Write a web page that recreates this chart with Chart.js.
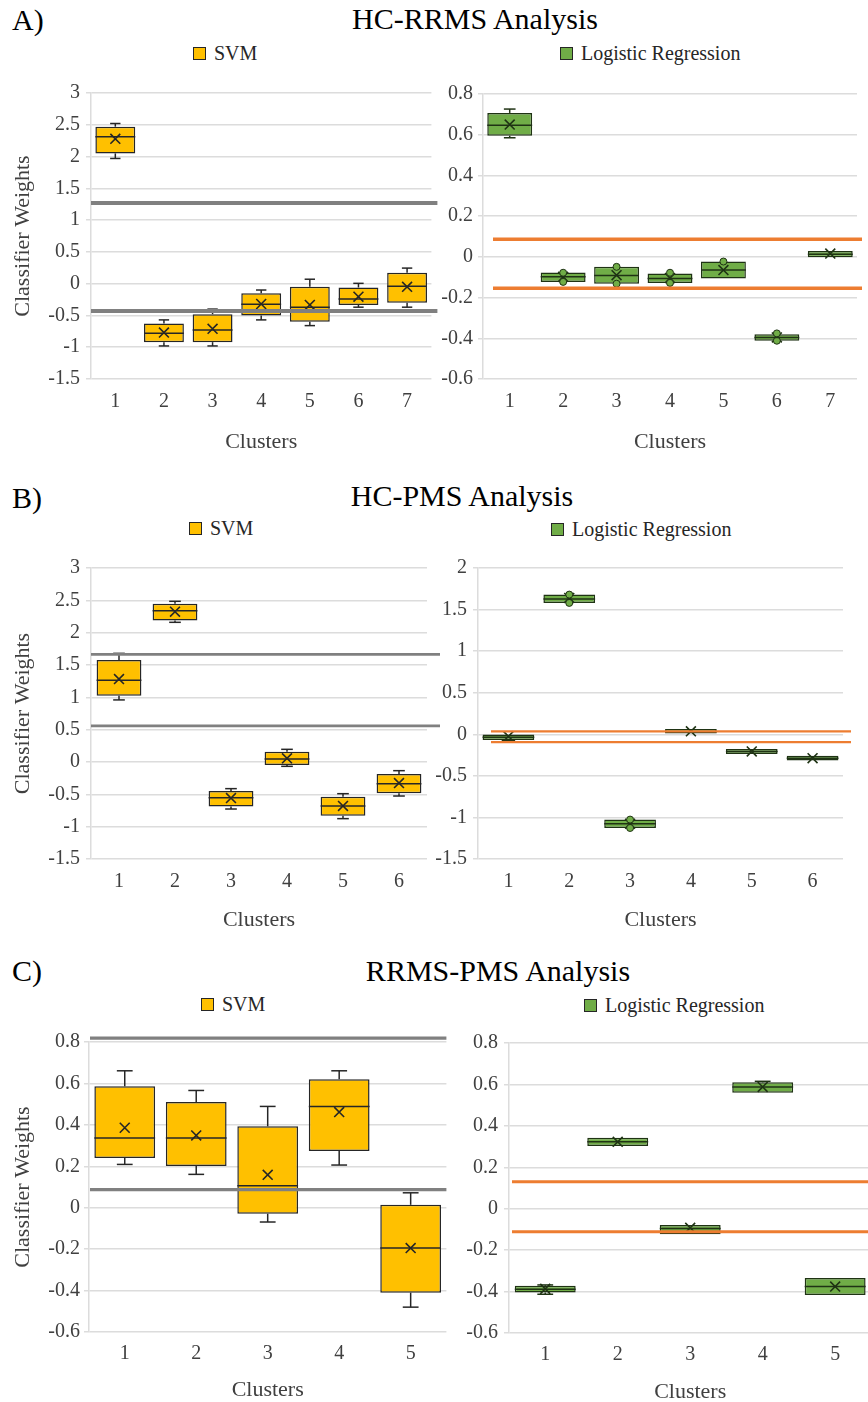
<!DOCTYPE html>
<html><head><meta charset="utf-8">
<script src="https://cdn.jsdelivr.net/npm/chart.js@4.4.1/dist/chart.umd.min.js"></script>
<style>
html,body{margin:0;padding:0;background:#fff;}
body{width:868px;height:1402px;position:relative;overflow:hidden;font-family:'Liberation Serif','Times New Roman',serif;color:#000;}
.t{position:absolute;white-space:nowrap;line-height:1;transform:translate(-50%,-50%);font-size:30px;}
.lbl{position:absolute;white-space:nowrap;line-height:1;transform:translateY(-50%);font-size:30px;}
.lg{position:absolute;display:flex;align-items:center;font-size:20px;line-height:1;color:#262626;transform:translateY(-50%);white-space:nowrap;}
.sw{width:11px;height:11px;border:1px solid #262626;margin-right:8px;flex:none;}
canvas{position:absolute;}
</style></head>
<body>
<div class="lbl" style="left:12px;top:20px">A)</div>
<div class="t" style="left:475px;top:19px">HC-RRMS Analysis</div>
<div class="lg" style="left:193px;top:53px"><span class="sw" style="background:#FFC000"></span>SVM</div>
<div class="lg" style="left:560px;top:53px"><span class="sw" style="background:#70AD47"></span>Logistic Regression</div>

<div class="lbl" style="left:12px;top:498px">B)</div>
<div class="t" style="left:462px;top:496px">HC-PMS Analysis</div>
<div class="lg" style="left:189px;top:528px"><span class="sw" style="background:#FFC000"></span>SVM</div>
<div class="lg" style="left:551px;top:529px"><span class="sw" style="background:#70AD47"></span>Logistic Regression</div>

<div class="lbl" style="left:12px;top:971px">C)</div>
<div class="t" style="left:498px;top:971px">RRMS-PMS Analysis</div>
<div class="lg" style="left:201px;top:1004px"><span class="sw" style="background:#FFC000"></span>SVM</div>
<div class="lg" style="left:584px;top:1005px"><span class="sw" style="background:#70AD47"></span>Logistic Regression</div>

<canvas id="aSvm"></canvas><canvas id="aLr"></canvas>
<canvas id="bSvm"></canvas><canvas id="bLr"></canvas>
<canvas id="cSvm"></canvas><canvas id="cLr"></canvas>
<script>
// ---------- Panel A: HC-RRMS ----------
const aClusters = ['1','2','3','4','5','6','7'];
const aSvmTicks = [3,2.5,2,1.5,1,0.5,0,-0.5,-1,-1.5];
const aSvmMin  = [1.97,-0.98,-0.98,-0.57,-0.66,-0.37,-0.37];
const aSvmQ1   = [2.05,-0.92,-0.92,-0.50,-0.60,-0.335,-0.30];
const aSvmMed  = [2.31,-0.78,-0.73,-0.325,-0.37,-0.24,-0.04];
const aSvmQ3   = [2.47,-0.625,-0.48,-0.15,-0.05,-0.06,0.17];
const aSvmMax  = [2.52,-0.57,-0.40,-0.10,0.07,0.005,0.245];
const aSvmMean = [2.28,-0.77,-0.71,-0.32,-0.335,-0.205,-0.05];
const aSvmLines = [1.27,-0.43];

const aLrTicks = [0.8,0.6,0.4,0.2,0,-0.2,-0.4,-0.6];
const aLrMin  = [0.585,null,null,null,null,null,null];
const aLrQ1   = [0.595,-0.123,-0.132,-0.128,-0.106,-0.412,-0.002];
const aLrMed  = [0.646,-0.098,-0.092,-0.106,-0.065,-0.396,0.013];
const aLrQ3   = [0.707,-0.077,-0.049,-0.082,-0.023,-0.38,0.029];
const aLrMax  = [0.726,null,null,null,null,null,null];
const aLrMean = [0.65,-0.098,-0.09,-0.104,-0.065,-0.396,0.016];
const aLrDotsHigh = [null,-0.078,-0.049,-0.078,-0.023,-0.376,null];
const aLrDotsLow  = [null,-0.123,-0.132,-0.128,null,-0.412,null];
const aLrLines = [0.087,-0.154];

// ---------- Panel B: HC-PMS ----------
const bClusters = ['1','2','3','4','5','6'];
const bSvmTicks = [3,2.5,2,1.5,1,0.5,0,-0.5,-1,-1.5];
const bSvmMin  = [0.96,2.16,-0.727,-0.067,-0.876,-0.526];
const bSvmQ1   = [1.026,2.19,-0.69,-0.046,-0.83,-0.485];
const bSvmMed  = [1.263,2.34,-0.552,0.046,-0.68,-0.335];
const bSvmQ3   = [1.577,2.448,-0.448,0.16,-0.536,-0.186];
const bSvmMax  = [1.68,2.485,-0.412,0.196,-0.49,-0.134];
const bSvmMean = [1.283,2.325,-0.557,0.057,-0.68,-0.325];
const bSvmLines = [1.665,0.56];

const bLrTicks = [2,1.5,1,0.5,0,-0.5,-1,-1.5];
const bLrMin  = [-0.075,null,null,null,null,null];
const bLrQ1   = [-0.068,1.58,-1.127,0.008,-0.238,-0.315];
const bLrMed  = [-0.036,1.628,-1.075,0.032,-0.206,-0.287];
const bLrQ3   = [-0.004,1.68,-1.026,0.065,-0.176,-0.258];
const bLrMax  = [null,null,null,null,null,null];
const bLrMean = [-0.024,1.64,-1.075,0.036,-0.206,-0.287];
const bLrDotsHigh = [null,1.68,-1.026,null,null,null];
const bLrDotsLow  = [null,1.58,-1.127,null,null,null];
const bLrLines = [0.034,-0.094];

// ---------- Panel C: RRMS-PMS ----------
const cClusters = ['1','2','3','4','5'];
const cSvmTicks = [0.8,0.6,0.4,0.2,0,-0.2,-0.4,-0.6];
const cSvmMin  = [0.209,0.161,-0.069,0.206,-0.48];
const cSvmQ1   = [0.24,0.201,-0.029,0.274,-0.41];
const cSvmMed  = [0.336,0.336,0.106,0.489,-0.195];
const cSvmQ3   = [0.586,0.51,0.393,0.62,0.014];
const cSvmMax  = [0.661,0.566,0.489,0.661,0.072];
const cSvmMean = [0.386,0.349,0.159,0.462,-0.195];
const cSvmLines = [0.819,0.087];

const cLrTicks = [0.8,0.6,0.4,0.2,0,-0.2,-0.4,-0.6];
const cLrMin  = [-0.413,null,null,null,null];
const cLrQ1   = [-0.405,0.303,-0.123,0.56,-0.416];
const cLrMed  = [-0.389,0.323,-0.096,0.588,-0.376];
const cLrQ3   = [-0.372,0.342,-0.079,0.61,-0.335];
const cLrMax  = [-0.368,null,null,0.615,null];
const cLrMean = [-0.387,0.323,-0.092,0.588,-0.376];
const cLrLines = [0.13,-0.111];

const FONT = "'Liberation Serif','Times New Roman',serif";
const SVM_FILL = '#FFC000', SVM_EDGE = '#262626';
const LR_FILL = '#70AD47', LR_EDGE = '#1f3314';
const GRAY = '#808080', ORANGE = '#ED7D31';

function boxChart(id, g, s) {
  const el = document.getElementById(id);
  el.width = g.width; el.height = g.areaBottom + 81 - g.top;
  el.style.left = g.left + 'px'; el.style.top = g.top + 'px';

  const extras = {
    id: 'boxExtras_' + id,
    afterDatasetsDraw(chart) {
      const {ctx, chartArea: ca, scales: {y}} = chart;
      const meta = chart.getDatasetMeta(0);
      const seg = (x1, y1, x2, y2) => { ctx.beginPath(); ctx.moveTo(x1, y1); ctx.lineTo(x2, y2); ctx.stroke(); };
      ctx.save();
      ctx.strokeStyle = s.edge; ctx.lineWidth = 1.5;
      meta.data.forEach((bar, i) => {
        const half = bar.width / 2, cap = bar.width * 0.13;
        const ym = y.getPixelForValue(s.med[i]);
        seg(bar.x - half, ym, bar.x + half, ym);
        if (s.max[i] != null) {
          const a = y.getPixelForValue(s.q3[i]), b = y.getPixelForValue(s.max[i]);
          seg(bar.x, a, bar.x, b); seg(bar.x - cap, b, bar.x + cap, b);
        }
        if (s.min[i] != null) {
          const a = y.getPixelForValue(s.q1[i]), b = y.getPixelForValue(s.min[i]);
          seg(bar.x, a, bar.x, b); seg(bar.x - cap, b, bar.x + cap, b);
        }
      });
      ctx.strokeStyle = g.lineColor; ctx.lineWidth = g.lineWidth;
      s.lines.forEach(v => {
        const p = y.getPixelForValue(v);
        seg(ca.left + g.lineStart, p, ca.right + g.lineEnd, p);
      });
      ctx.restore();
    }
  };

  const datasets = [{
    type: 'bar', label: s.name,
    data: s.q1.map((v, i) => [v, s.q3[i]]),
    backgroundColor: s.fill, borderColor: s.edge, borderWidth: 1.5, borderSkipped: false,
    barPercentage: g.barPct, categoryPercentage: 1, order: 3
  }, {
    type: 'line', label: 'Mean', data: s.mean, showLine: false,
    pointStyle: 'crossRot', pointRadius: 7, pointBorderColor: s.edge, pointBorderWidth: 1.6,
    pointBackgroundColor: 'rgba(0,0,0,0)', order: 1
  }];
  [s.dotsHigh, s.dotsLow].forEach(d => {
    if (d) datasets.push({
      type: 'line', label: 'Points', data: d, showLine: false,
      pointStyle: 'circle', pointRadius: 3.5, pointBackgroundColor: s.fill,
      pointBorderColor: s.edge, pointBorderWidth: 1, order: 0
    });
  });

  return new Chart(el, {
    type: 'bar',
    data: {labels: s.labels, datasets},
    options: {
      responsive: false, animation: false, devicePixelRatio: 1,
      layout: {padding: {top: g.areaTop - g.top, right: g.left + g.width - g.areaRight, left: 0, bottom: 0}},
      plugins: {legend: {display: false}, tooltip: {enabled: false}},
      scales: {
        x: {
          grid: {display: false, drawTicks: false}, border: {display: false},
          ticks: {font: {family: FONT, size: 20}, color: '#404040', padding: g.xTickPad},
          title: {display: true, text: 'Clusters', font: {family: FONT, size: 22}, color: '#404040',
                  padding: {top: 0, bottom: g.xTitlePad}},
          afterFit(sc) { sc.height = 81; }
        },
        y: {
          min: s.ticks[s.ticks.length - 1], max: s.ticks[0],
          afterBuildTicks(sc) { sc.ticks = s.ticks.map(v => ({value: v})); },
          ticks: {autoSkip: false, callback: v => String(v), font: {family: FONT, size: 20},
                  color: '#404040', padding: g.yTickPad},
          grid: {color: '#dcdcdc', lineWidth: 1.5, tickLength: 5},
          border: {display: true, color: '#dcdcdc', width: 1.5},
          title: {display: g.yTitle, text: 'Classifier Weights', font: {family: FONT, size: 22},
                  color: '#404040', padding: {top: 10, bottom: 0}},
          afterFit(sc) { sc.width = g.areaLeft - g.left; }
        }
      }
    },
    plugins: [extras]
  });
}

boxChart('aSvm',
  {left: 0, top: 75, width: 440, areaLeft: 91, areaTop: 93, areaRight: 433, areaBottom: 379,
   barPct: 0.82, yTitle: true, yTickPad: 6, xTickPad: 11, xTitlePad: 5,
   lineColor: GRAY, lineWidth: 4, lineStart: 0, lineEnd: 6},
  {name: 'SVM', labels: aClusters, ticks: aSvmTicks, min: aSvmMin, q1: aSvmQ1, med: aSvmMed, q3: aSvmQ3,
   max: aSvmMax, mean: aSvmMean, lines: aSvmLines, fill: SVM_FILL, edge: SVM_EDGE});

boxChart('aLr',
  {left: 440, top: 75, width: 428, areaLeft: 483, areaTop: 94, areaRight: 857, areaBottom: 379,
   barPct: 0.84, yTitle: false, yTickPad: 5, xTickPad: 11, xTitlePad: 5,
   lineColor: ORANGE, lineWidth: 3.5, lineStart: 10, lineEnd: 5},
  {name: 'Logistic Regression', labels: aClusters, ticks: aLrTicks, min: aLrMin, q1: aLrQ1, med: aLrMed, q3: aLrQ3,
   max: aLrMax, mean: aLrMean, dotsHigh: aLrDotsHigh, dotsLow: aLrDotsLow, lines: aLrLines,
   fill: LR_FILL, edge: LR_EDGE});

boxChart('bSvm',
  {left: 0, top: 550, width: 442, areaLeft: 91, areaTop: 568, areaRight: 427, areaBottom: 859,
   barPct: 0.80, yTitle: true, yTickPad: 6, xTickPad: 11, xTitlePad: 7,
   lineColor: GRAY, lineWidth: 2.7, lineStart: 0, lineEnd: 13},
  {name: 'SVM', labels: bClusters, ticks: bSvmTicks, min: bSvmMin, q1: bSvmQ1, med: bSvmMed, q3: bSvmQ3,
   max: bSvmMax, mean: bSvmMean, lines: bSvmLines, fill: SVM_FILL, edge: SVM_EDGE});

boxChart('bLr',
  {left: 430, top: 550, width: 438, areaLeft: 478, areaTop: 568, areaRight: 843, areaBottom: 859,
   barPct: 0.85, yTitle: false, yTickPad: 6, xTickPad: 11, xTitlePad: 7,
   lineColor: ORANGE, lineWidth: 2.3, lineStart: 13, lineEnd: 8},
  {name: 'Logistic Regression', labels: bClusters, ticks: bLrTicks, min: bLrMin, q1: bLrQ1, med: bLrMed, q3: bLrQ3,
   max: bLrMax, mean: bLrMean, dotsHigh: bLrDotsHigh, dotsLow: bLrDotsLow, lines: bLrLines,
   fill: LR_FILL, edge: LR_EDGE});

boxChart('cSvm',
  {left: 0, top: 1022, width: 455, areaLeft: 89, areaTop: 1042, areaRight: 447, areaBottom: 1332,
   barPct: 0.85, yTitle: true, yTickPad: 4, xTickPad: 10, xTitlePad: 10,
   lineColor: GRAY, lineWidth: 3.3, lineStart: 1, lineEnd: 0},
  {name: 'SVM', labels: cClusters, ticks: cSvmTicks, min: cSvmMin, q1: cSvmQ1, med: cSvmMed, q3: cSvmQ3,
   max: cSvmMax, mean: cSvmMean, lines: cSvmLines, fill: SVM_FILL, edge: SVM_EDGE});

boxChart('cLr',
  {left: 455, top: 1022, width: 425, areaLeft: 509, areaTop: 1043, areaRight: 874, areaBottom: 1333,
   barPct: 0.84, yTitle: false, yTickPad: 6, xTickPad: 10, xTitlePad: 9,
   lineColor: ORANGE, lineWidth: 3, lineStart: 3, lineEnd: 6},
  {name: 'Logistic Regression', labels: cClusters, ticks: cLrTicks, min: cLrMin, q1: cLrQ1, med: cLrMed, q3: cLrQ3,
   max: cLrMax, mean: cLrMean, lines: cLrLines, fill: LR_FILL, edge: LR_EDGE});
</script>
</body></html>
